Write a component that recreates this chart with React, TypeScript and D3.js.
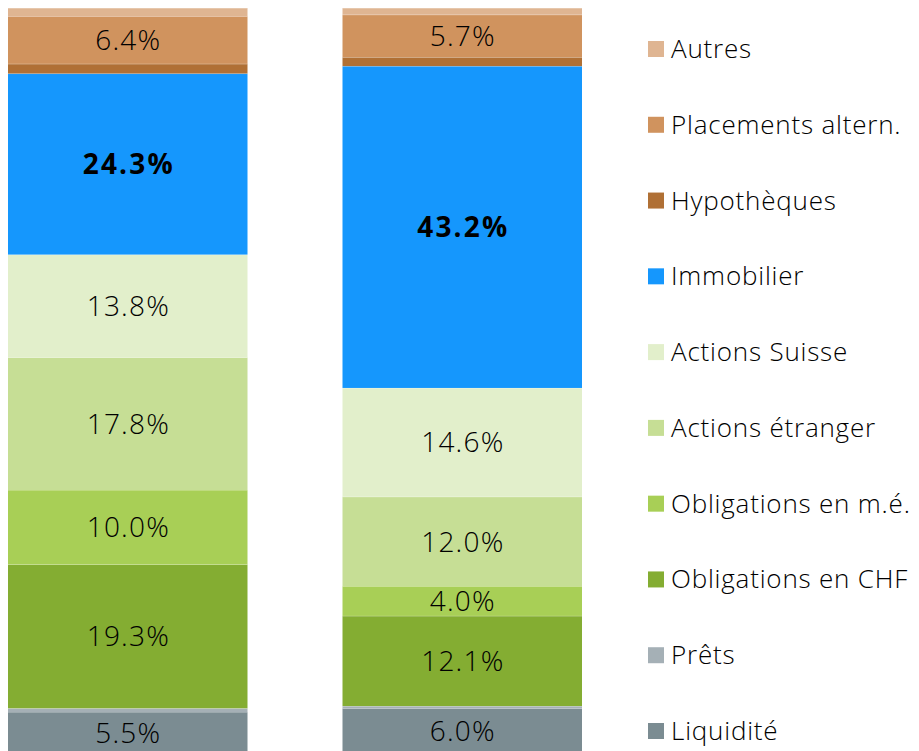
import React from "react";
import * as d3 from "d3";

const categories = [
  "Liquidité",
  "Prêts",
  "Obligations en CHF",
  "Obligations en m.é.",
  "Actions étranger",
  "Actions Suisse",
  "Immobilier",
  "Hypothèques",
  "Placements altern.",
  "Autres",
];
const colors = [
  "#7b8c92",
  "#a5b0b6",
  "#84ad32",
  "#a8cf56",
  "#c6de95",
  "#e2efcb",
  "#1597fd",
  "#b07035",
  "#d0935e",
  "#dfb592",
];
const barNames = ["Portefeuille A", "Portefeuille B"];
const seriesA = [5.5, 0.5, 19.3, 10.0, 17.8, 13.8, 24.3, 1.3, 6.4, 1.1];
const seriesB = [6.0, 0.3, 12.1, 4.0, 12.0, 14.6, 43.2, 1.2, 5.7, 0.9];
const boldCategory = "Immobilier";

const W = 919;
const H = 751;
const FONT = "'Open Sans', 'Noto Sans', sans-serif";

export default function App() {
  const x = d3.scaleBand<string>().domain(barNames).range([8, 582]).paddingInner(0.284).paddingOuter(0);
  const y = d3.scaleLinear().domain([0, 100]).range([753, 8]);

  const rows = barNames.map((name, i) => {
    const vals = i === 0 ? seriesA : seriesB;
    const obj: any = { name };
    categories.forEach((c, k) => (obj[c] = vals[k]));
    return obj;
  });
  const stacked = d3.stack<any>().keys(categories)(rows);
  const color = d3.scaleOrdinal<string, string>().domain(categories).range(colors);

  const legendY = d3
    .scalePoint<string>()
    .domain([...categories].reverse())
    .range([49, 731]);

  const fs = 28;

  return (
    <svg
      width={W}
      height={H}
      style={{ position: "absolute", left: 0, top: 0, display: "block", background: "#fff" }}
    >
      {stacked.map((layer) => (
        <g key={layer.key}>
          {layer.map((d, i) => {
            const x0 = x(barNames[i])!;
            const y0 = y(d[1]);
            const y1 = y(d[0]);
            const v = d[1] - d[0];
            const cy = (y0 + y1) / 2;
            const bold = layer.key === boldCategory;
            const ls = bold ? 2.2 : 1.2;
            return (
              <g key={i}>
                <rect x={x0} y={y0} width={x.bandwidth()} height={y1 - y0} fill={color(layer.key)} />
                <line
                  x1={x0}
                  x2={x0 + x.bandwidth()}
                  y1={y0}
                  y2={y0}
                  stroke="#ffffff"
                  strokeWidth={0.7}
                  strokeOpacity={0.7}
                />
                {v > 2 && (
                  <text
                    x={x0 + x.bandwidth() / 2 + ls / 2}
                    y={cy + fs * 0.36}
                    textAnchor="middle"
                    fontFamily={FONT}
                    fontSize={fs}
                    letterSpacing={ls}
                    fontWeight={bold ? 700 : 300}
                    fill="#000000"
                  >
                    {v.toFixed(1)}%
                  </text>
                )}
              </g>
            );
          })}
        </g>
      ))}
      {categories.map((c) => (
        <g key={c} transform={`translate(648, ${legendY(c)})`}>
          <rect x={0} y={-8} width={16} height={16} fill={color(c)} />
          <text x={23} y={9} fontFamily={FONT} fontSize={26} letterSpacing={0.8} fontWeight={300} fill="#000000">
            {c}
          </text>
        </g>
      ))}
    </svg>
  );
}
